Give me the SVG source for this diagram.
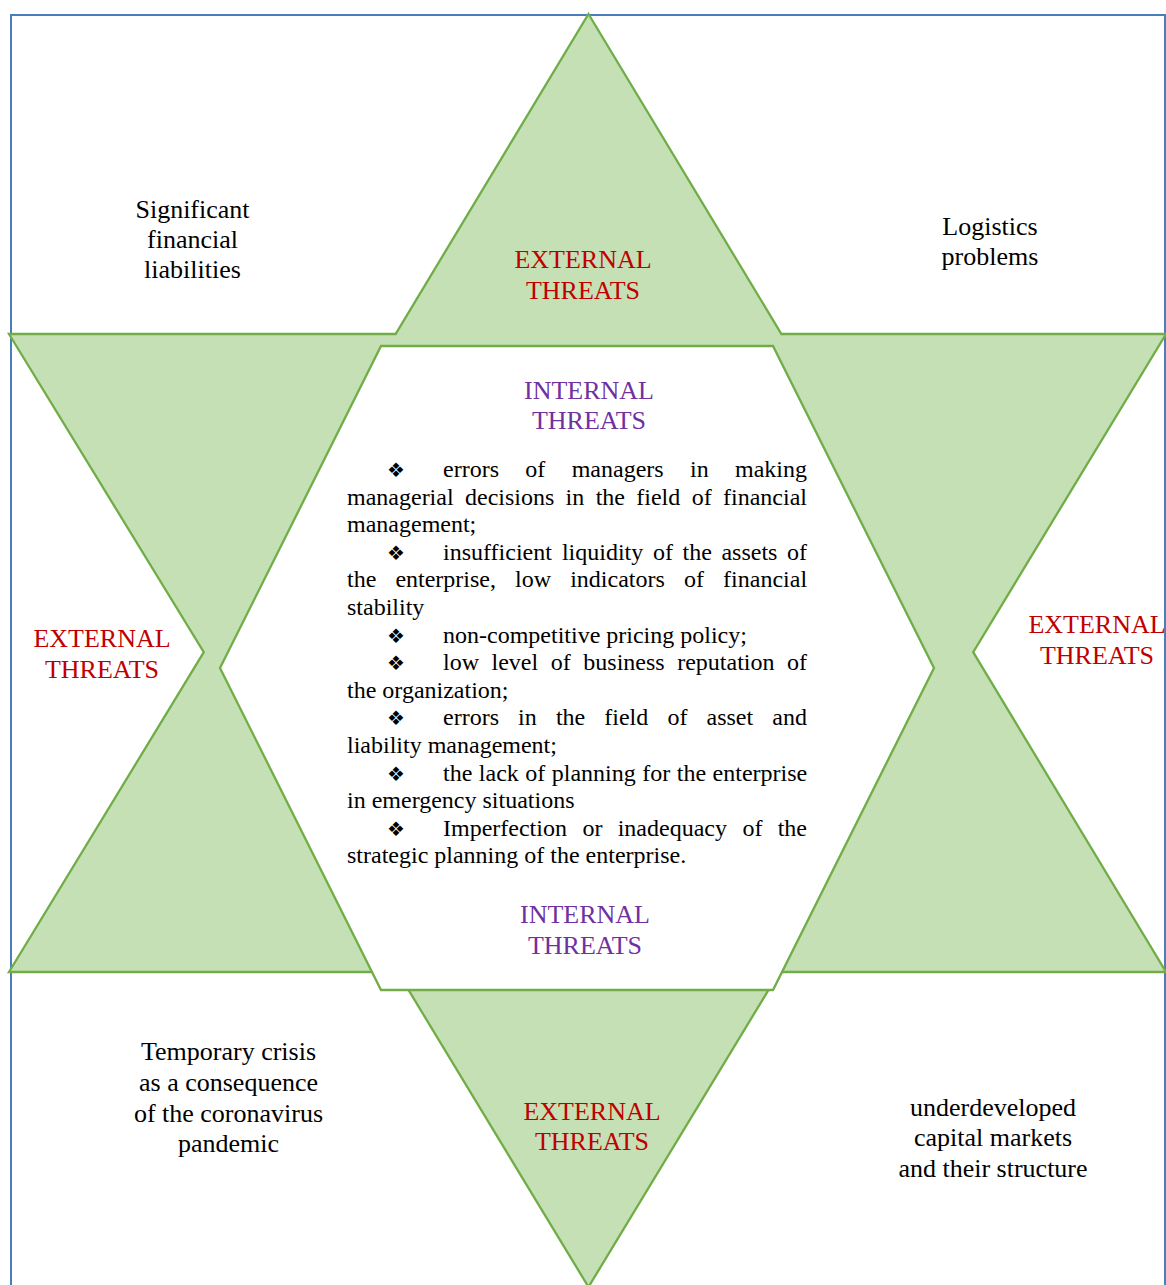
<svg xmlns="http://www.w3.org/2000/svg" width="1166" height="1285" viewBox="0 0 1166 1285">
<style>
  .t { font-family: "Liberation Serif", "Times New Roman", serif; fill: #000; }
  .lab { font-size: 26px; text-anchor: middle; }
  .ext { fill: #C00000; }
  .int { fill: #7030A0; }
  .body { font-size: 24px; }
  .bul { font-family: "DejaVu Sans", sans-serif; font-size: 20px; fill: #000; }
  .green { fill: #C5E0B4; stroke: #70AD47; stroke-width: 2.3; stroke-linejoin: miter; }
  .hex { fill: #FFFFFF; stroke: #70AD47; stroke-width: 2.3; }
</style>
<rect x="0" y="0" width="1166" height="1285" fill="#FFFFFF"/>
<g id="frame">
  <path d="M11,1290 V15 H1165 V1290" fill="none" stroke="#4A7EBB" stroke-width="2"/>
</g>
<g id="star">
  <polygon class="green" points="588.5,14 781.4,334 1166,334 973.2,652.2 1166,972 779.4,972 588.5,1287 397.6,972 9,972 203.8,652.2 9,334 395.6,334"/>
</g>
<g id="hexagon">
  <polygon class="hex" points="381,346 773,346 934,668 773,990 381,990 220,668"/>
</g>
<g id="connectors"></g>
<g id="ext-top">
  <text class="t lab ext" x="583" y="268">EXTERNAL</text>
  <text class="t lab ext" x="583" y="299">THREATS</text>
</g>
<g id="ext-left">
  <text class="t lab ext" x="102" y="647">EXTERNAL</text>
  <text class="t lab ext" x="102" y="678">THREATS</text>
</g>
<g id="ext-right">
  <text class="t lab ext" x="1097" y="633">EXTERNAL</text>
  <text class="t lab ext" x="1097" y="664">THREATS</text>
</g>
<g id="ext-bottom">
  <text class="t lab ext" x="592" y="1120">EXTERNAL</text>
  <text class="t lab ext" x="592" y="1150">THREATS</text>
</g>
<g id="int-top">
  <text class="t lab int" x="589" y="399">INTERNAL</text>
  <text class="t lab int" x="589" y="429">THREATS</text>
</g>
<g id="int-bottom">
  <text class="t lab int" x="585" y="923">INTERNAL</text>
  <text class="t lab int" x="585" y="954">THREATS</text>
</g>
<g id="liabilities">
  <text class="t lab" x="192.5" y="218">Significant</text>
  <text class="t lab" x="192.5" y="248">financial</text>
  <text class="t lab" x="192.5" y="278">liabilities</text>
</g>
<g id="logistics">
  <text class="t lab" x="990" y="235">Logistics</text>
  <text class="t lab" x="990" y="265">problems</text>
</g>
<g id="crisis">
  <text class="t lab" x="228.5" y="1060">Temporary crisis</text>
  <text class="t lab" x="228.5" y="1091">as a consequence</text>
  <text class="t lab" x="228.5" y="1121.5">of the coronavirus</text>
  <text class="t lab" x="228.5" y="1152">pandemic</text>
</g>
<g id="markets">
  <text class="t lab" x="993" y="1115.5">underdeveloped</text>
  <text class="t lab" x="993" y="1146">capital markets</text>
  <text class="t lab" x="993" y="1177">and their structure</text>
</g>
<g id="internal-list">
  <text class="bul" x="387" y="477">❖</text>
  <text class="t body" y="477"><tspan x="443">errors</tspan><tspan x="525.3">of</tspan><tspan x="571.7">managers</tspan><tspan x="690">in</tspan><tspan x="735">making</tspan></text>
  <text class="t body" y="504.6"><tspan x="347">managerial</tspan><tspan x="465">decisions</tspan><tspan x="565.6">in</tspan><tspan x="595.7">the</tspan><tspan x="636.3">field</tspan><tspan x="691.7">of</tspan><tspan x="723">financial</tspan></text>
  <text class="t body" x="347" y="532.2">management;</text>
  <text class="bul" x="387" y="559.8">❖</text>
  <text class="t body" y="559.8"><tspan x="443">insufficient</tspan><tspan x="561.9">liquidity</tspan><tspan x="652.9">of</tspan><tspan x="682.5">the</tspan><tspan x="721.4">assets</tspan><tspan x="787">of</tspan></text>
  <text class="t body" y="587.4"><tspan x="347">the</tspan><tspan x="395.4">enterprise,</tspan><tspan x="515.1">low</tspan><tspan x="570.2">indicators</tspan><tspan x="684">of</tspan><tspan x="723.1">financial</tspan></text>
  <text class="t body" x="347" y="615">stability</text>
  <text class="bul" x="387" y="642.6">❖</text>
  <text class="t body" x="443" y="642.6">non-competitive pricing policy;</text>
  <text class="bul" x="387" y="670.2">❖</text>
  <text class="t body" y="670.2"><tspan x="443">low</tspan><tspan x="491.5">level</tspan><tspan x="550.8">of</tspan><tspan x="583.3">business</tspan><tspan x="677.2">reputation</tspan><tspan x="787">of</tspan></text>
  <text class="t body" x="347" y="697.8">the organization;</text>
  <text class="bul" x="387" y="725.4">❖</text>
  <text class="t body" y="725.4"><tspan x="443">errors</tspan><tspan x="518.1">in</tspan><tspan x="555.9">the</tspan><tspan x="604.3">field</tspan><tspan x="667.4">of</tspan><tspan x="706.5">asset</tspan><tspan x="772.3">and</tspan></text>
  <text class="t body" x="347" y="753">liability management;</text>
  <text class="bul" x="387" y="780.6">❖</text>
  <text class="t body" x="443" y="780.6" word-spacing="0.5">the lack of planning for the enterprise</text>
  <text class="t body" x="347" y="808.2">in emergency situations</text>
  <text class="bul" x="387" y="835.8">❖</text>
  <text class="t body" y="835.8"><tspan x="443">Imperfection</tspan><tspan x="582.4">or</tspan><tspan x="617.7">inadequacy</tspan><tspan x="742.4">of</tspan><tspan x="777.7">the</tspan></text>
  <text class="t body" x="347" y="863.4">strategic planning of the enterprise.</text>
</g>
</svg>
